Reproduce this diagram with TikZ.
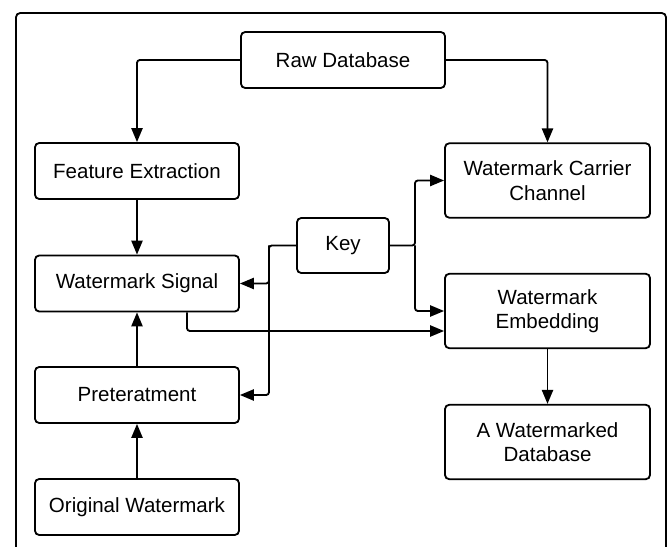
\documentclass[tikz,border=0pt]{standalone}
\usepackage{fontspec}
\setmainfont{Liberation Sans}
\usetikzlibrary{arrows.meta}

\begin{document}
\begin{tikzpicture}[>={Triangle[length=10pt,width=8pt]}, line width=1.3pt,
    box/.style={draw, rounded corners=3pt, align=center, inner sep=0pt,
        minimum width=5.1cm, minimum height=1.4cm,
        font=\fontsize{14.6pt}{17.5pt}\selectfont},
    wide/.style={box, minimum width=5.125cm, minimum height=1.86cm},
    link/.style={->, rounded corners=2pt}]
    \useasboundingbox (0,0) rectangle (16.775,13.65);
    \draw[rounded corners=3pt](0.4,-0.2) rectangle (16.65,13.325);
    \node[box] (raw) at (8.575,12.15) {Raw Database};
    \node[box] (feat) at (3.425,9.375) {Feature Extraction};
    \node[box] (signal) at (3.425,6.5625) {Watermark Signal};
    \node[box] (pre) at (3.425,3.775) {Preteratment};
    \node[box] (orig) at (3.425,0.975) {Original Watermark};
    \node[box, minimum width=2.3cm, minimum height=1.375cm] (key) at (8.575,7.5125) {Key};
    \node[wide] (carrier) at (13.6875,9.1375) {Watermark Carrier\\Channel};
    \node[wide] (embed) at (13.6875,5.875) {Watermark\\Embedding};
    \node[wide] (marked) at (13.6875,2.6) {A Watermarked\\Database};
    \coordinate (kl) at (6.725,7.5125);
    \coordinate (kr) at (10.375,7.5125);
    \draw[link](raw.west) -| (feat.north);
    \draw[link](raw.east) -| (carrier.north);
    \draw[->](feat) -- (signal);
    \draw[->](pre) -- (signal);
    \draw[->](orig) -- (pre);
    \draw[->](embed) -- (marked);
    \draw[link](key.west) -- (kl) |- (pre.east);
    \draw[link](kl) |- (signal.east);
    \draw[link](key.east) -- (kr) |- (carrier.west);
    \draw[link](kr) |- (embed.west);
    \draw[link]([xshift=1.25cm]signal.south) |- ([yshift=-.5cm]embed.west);
\end{tikzpicture}
\end{document}
